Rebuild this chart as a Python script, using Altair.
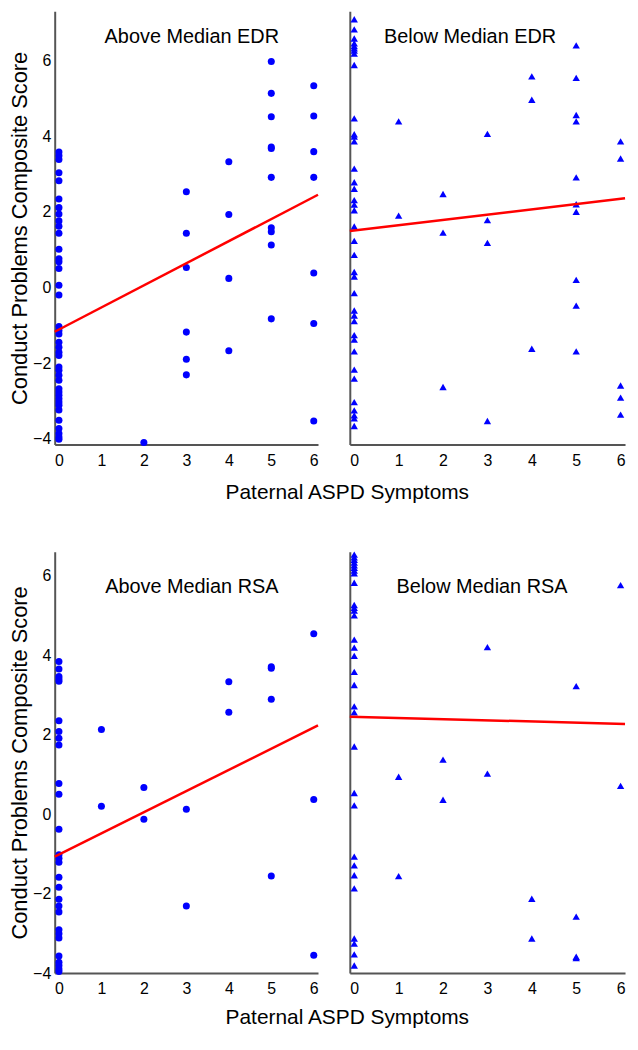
import altair as alt
import pandas as pd

FONT = "Liberation Sans"
BLUE = "#0000FF"
RED = "#FF0000"

# ---- Above Median EDR (circles): conduct score values per paternal ASPD symptom count
edr_above = {
    0: [3.58, 3.48, 3.38, 3.03, 2.82, 2.34, 2.11, 1.94, 1.76, 1.62, 1.43, 1.01, 0.76, 0.68,
        0.50, 0.06, -0.20, -1.03, -1.14, -1.23, -1.45, -1.58, -1.71, -1.80, -2.10, -2.19,
        -2.32, -2.45, -2.68, -2.76, -2.85, -2.94, -3.03, -3.11, -3.24, -3.51, -3.73, -3.86,
        -3.95, -4.01],
    2: [-4.10],
    3: [2.53, 1.43, 0.53, -1.18, -1.90, -2.31],
    4: [3.32, 1.93, 0.24, -1.67],
    5: [5.97, 5.13, 4.51, 3.71, 3.67, 2.91, 1.58, 1.47, 1.12, -0.83],
    6: [5.33, 4.53, 3.59, 2.91, 0.38, -0.95, -3.53],
}
edr_above_fit_x = [-0.1, 6.1]
edr_above_fit_y = [-1.17, 2.45]

# ---- Below Median EDR (triangles)
edr_below = {
    0: [7.09, 6.82, 6.58, 6.45, 6.38, 6.32, 6.26, 6.18, 5.88, 4.47, 4.05, 3.99, 3.86, 3.14,
        2.78, 2.61, 2.31, 2.19, 2.04, 1.61, 1.23, 0.86, 0.41, 0.29, -0.15, -0.61, -0.74,
        -0.89, -1.26, -1.38, -1.69, -2.17, -2.41, -3.03, -3.25, -3.38, -3.46, -3.66],
    1: [4.39, 1.90],
    2: [2.47, 1.45, -2.63],
    3: [4.06, 1.78, 1.18, -3.53],
    4: [5.58, 4.96, -1.62],
    5: [6.40, 5.54, 4.56, 4.39, 2.91, 2.20, 2.00, 0.20, -0.48, -1.69],
    6: [3.86, 3.41, -2.59, -2.91, -3.36],
}
edr_below_fit_x = [-0.1, 6.1]
edr_below_fit_y = [1.49, 2.36]

# ---- Above Median RSA (circles)
rsa_above = {
    0: [3.84, 3.65, 3.46, 3.40, 3.34, 2.35, 2.08, 1.91, 1.74, 0.77, 0.50, -0.38, -1.02,
        -1.11, -1.21, -1.59, -1.84, -2.14, -2.31, -2.46, -2.91, -3.01, -3.12, -3.57, -3.73,
        -3.81, -3.90, -3.96],
    1: [2.13, 0.20],
    2: [0.67, -0.13],
    3: [0.12, -2.31],
    4: [3.33, 2.56],
    5: [3.71, 3.67, 2.89, -1.56],
    6: [4.54, 0.37, -3.55],
}
rsa_above_fit_x = [-0.1, 6.1]
rsa_above_fit_y = [-1.07, 2.23]

# ---- Below Median RSA (triangles)
rsa_below = {
    0: [6.53, 6.46, 6.40, 6.33, 6.26, 6.20, 6.13, 6.06, 5.82, 5.26, 5.19, 5.12, 5.00, 4.39,
        4.19, 3.98, 3.58, 3.25, 2.71, 2.56, 1.70, 0.53, 0.22, -1.07, -1.29, -1.54, -1.87,
        -3.13, -3.26, -3.53, -3.81],
    1: [0.94, -1.56],
    2: [1.37, 0.36],
    3: [4.20, 1.02],
    4: [-2.13, -3.13],
    5: [3.22, -2.58, -3.59, -3.62],
    6: [5.76, 0.71],
}
rsa_below_fit_x = [-0.1, 6.1]
rsa_below_fit_y = [2.45, 2.27]

x_ticks = [0, 1, 2, 3, 4, 5, 6]
y_ticks = [-4, -2, 0, 2, 4, 6]
X_TITLE = "Paternal ASPD Symptoms"
Y_TITLE = "Conduct Problems Composite Score"


def panel(ys_by_x, fit_x, fit_y, label, label_pos, shape, size, ydom, w, h, left,
          lab_pad=8, title_pad=13):
    rows = [(x, y) for x, ys in ys_by_x.items() for y in ys]
    df = pd.DataFrame(rows, columns=["x", "y"])
    xs = alt.Scale(domain=[-0.1, 6.1], nice=False, zero=False)
    ysc = alt.Scale(domain=ydom, nice=False, zero=False)
    common = dict(grid=False, domainColor="#555555", domainWidth=2, labelColor="black",
                  labelFont=FONT, labelFontSize=16, tickSize=0, format="d")
    if left:
        xaxis = alt.Axis(values=x_ticks, title=X_TITLE, titleX=294, titleAlign="center",
                         titleAnchor="start", titleFontSize=21, titleFontWeight="normal",
                         titleFont=FONT, titleColor="black", titlePadding=title_pad,
                         labelPadding=lab_pad, **common)
        yaxis = alt.Axis(values=y_ticks, title=Y_TITLE, titleFontSize=22,
                         titleFontWeight="normal", titleFont=FONT, titleColor="black",
                         titlePadding=1, labelPadding=4, **common)
    else:
        xaxis = alt.Axis(values=x_ticks, title=None, labelPadding=lab_pad, **common)
        yaxis = alt.Axis(labels=False, ticks=False, title=None, grid=False,
                         domainColor="#555555", domainWidth=2)
    pts = alt.Chart(df).mark_point(shape=shape, filled=True, size=size, color=BLUE,
                                   opacity=1).encode(
        x=alt.X("x:Q", scale=xs, axis=xaxis),
        y=alt.Y("y:Q", scale=ysc, axis=yaxis),
    )
    fit = alt.Chart(pd.DataFrame({"x": fit_x, "y": fit_y})).mark_line(
        color=RED, strokeWidth=2.5).encode(x="x:Q", y="y:Q")
    txt = alt.Chart(pd.DataFrame({"t": [label]})).mark_text(
        fontSize=20, font=FONT, color="black", align="center", baseline="middle").encode(
        x=alt.value(label_pos[0]), y=alt.value(label_pos[1]), text="t:N")
    return alt.layer(pts, fit, txt).properties(width=w, height=h)


top_dom = [-4.15, 7.3]
bot_dom = [-4.0, 6.6]

p1 = panel(edr_above, edr_above_fit_x, edr_above_fit_y, "Above Median EDR", (138, 26),
           "circle", 50, top_dom, 265, 436, True)
p2 = panel(edr_below, edr_below_fit_x, edr_below_fit_y, "Below Median EDR", (121, 26),
           "triangle-up", 55, top_dom, 277, 436, False)
p3 = panel(rsa_above, rsa_above_fit_x, rsa_above_fit_y, "Above Median RSA", (138, 35),
           "circle", 50, bot_dom, 265, 424, True, lab_pad=8, title_pad=10)
p4 = panel(rsa_below, rsa_below_fit_x, rsa_below_fit_y, "Below Median RSA", (133, 35),
           "triangle-up", 55, bot_dom, 277, 424, False, lab_pad=8)

row1 = alt.hconcat(p1, p2, spacing=32, bounds="flush")
row2 = alt.hconcat(p3, p4, spacing=32, bounds="flush")

chart = alt.vconcat(row1, row2, spacing=49).properties(
    padding={"left": 0, "top": 0, "right": 0, "bottom": 0}
).configure_view(stroke=None)

chart.save("out.html", embed_options={"renderer": "svg", "actions": False})
